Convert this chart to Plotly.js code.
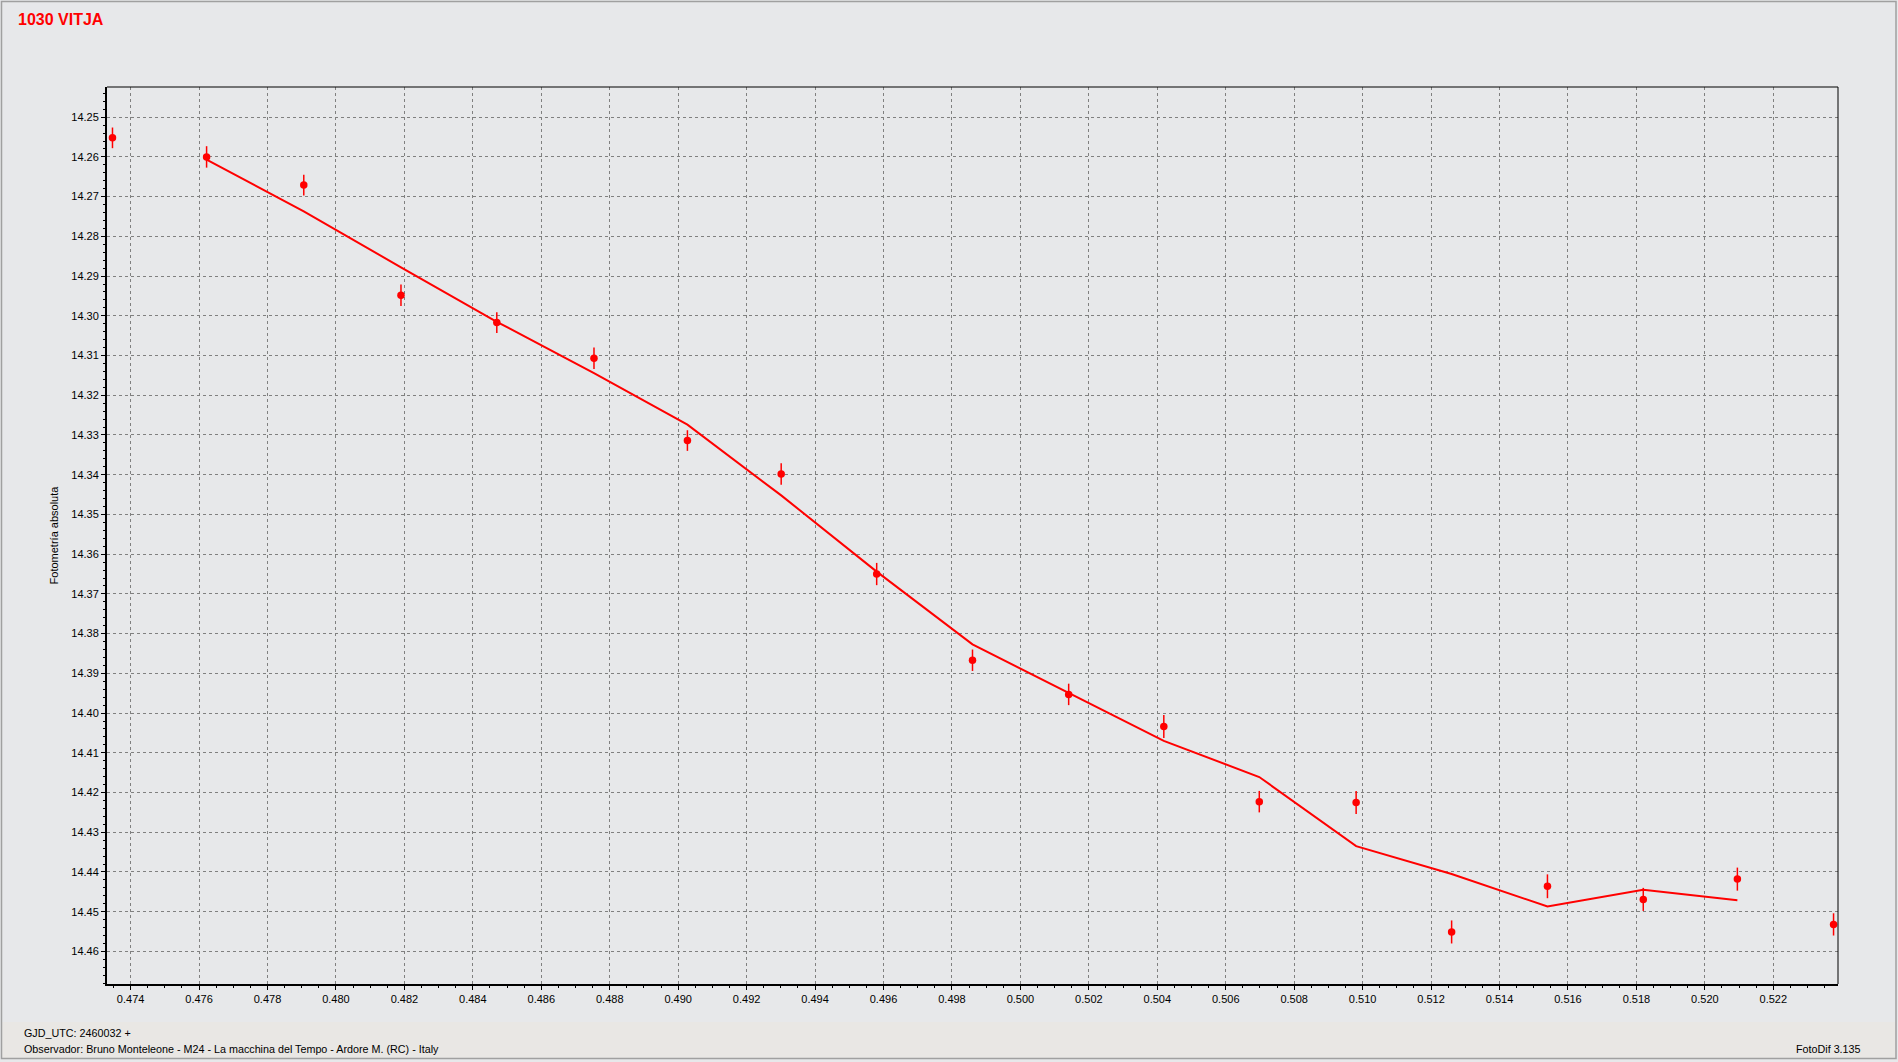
<!DOCTYPE html>
<html>
<head>
<meta charset="utf-8">
<script src="https://cdn.plot.ly/plotly-3.0.1.min.js"></script>
<style>
  html, body { margin: 0; padding: 0; background: #E7E8EA; }
  #chart { width: 1898px; height: 1062px; }
</style>
</head>
<body>
<div id="chart"></div>
<script>
// ---- Data ----
const chartTitle = "1030 VITJA";
const yAxisTitle = "Fotometría absoluta";
const footerDate = "GJD_UTC: 2460032 +";
const footerObserver = "Observador: Bruno Monteleone - M24 - La macchina del Tempo - Ardore M. (RC) - Italy";
const footerSoftware = "FotoDif 3.135";

// observation times (GJD_UTC - 2460032)
const xObs = [0.47347, 0.47622, 0.47906, 0.48190, 0.48470, 0.48754, 0.49027, 0.49301, 0.49580, 0.49860,
              0.50141, 0.50419, 0.50698, 0.50981, 0.51260, 0.51540, 0.51820, 0.52095, 0.52376];
// absolute magnitudes
const magObs = [14.2552, 14.2600, 14.2671, 14.2948, 14.3017, 14.3107, 14.3314, 14.3398, 14.3650, 14.3867,
                14.3953, 14.4034, 14.4223, 14.4225, 14.4551, 14.4436, 14.4469, 14.4418, 14.4532];
// magnitude errors
const magErr = [0.0026, 0.0027, 0.0026, 0.0027, 0.0026, 0.0027, 0.0026, 0.0027, 0.0028, 0.0027,
                0.0027, 0.0029, 0.0027, 0.0029, 0.0029, 0.0030, 0.0029, 0.0029, 0.0028];
// smoothed curve times and values
const xFit = [0.47622, 0.47906, 0.48190, 0.48470, 0.48754, 0.49027, 0.49301, 0.49580, 0.49860,
              0.50141, 0.50419, 0.50698, 0.50981, 0.51260, 0.51540, 0.51820, 0.52095];
const magFit = [14.2607, 14.2737, 14.2878, 14.3015, 14.3144, 14.3274, 14.3452, 14.3644, 14.3827,
                14.3949, 14.4070, 14.4161, 14.4335, 14.4405, 14.4487, 14.4445, 14.4471];

// ---- Layout geometry ----
const W = 1898, H = 1062;
const M = { l: 107, r: 60, t: 87, b: 78 };
const pw = W - M.l - M.r, ph = H - M.t - M.b;
const px = x => (x - M.l) / pw;           // pixel -> paper x
const py = y => (H - M.b - y) / ph;       // pixel -> paper y

const red = "#FF0000";
const font = "Liberation Sans, Arial, sans-serif";

const traces = [
  {
    type: "scatter", mode: "lines",
    x: xFit, y: magFit,
    line: { color: red, width: 2 },
    hoverinfo: "skip", showlegend: false
  },
  {
    type: "scatter", mode: "markers",
    x: xObs, y: magObs,
    marker: { color: red, size: 7.5, symbol: "circle" },
    error_y: { type: "data", array: magErr, visible: true, color: red, thickness: 1.5, width: 0 },
    showlegend: false
  }
];

const gridStyle = { showgrid: true, gridcolor: "#808080", gridwidth: 1, griddash: "3px,3px" };

const layout = {
  width: W, height: H,
  margin: M,
  paper_bgcolor: "#E7E8EA",
  plot_bgcolor: "#E7E8EA",
  showlegend: false,
  font: { family: font, size: 11, color: "#000" },
  title: {
    text: "<b>" + chartTitle + "</b>",
    font: { family: font, size: 16, color: red },
    xref: "container", yref: "container",
    x: 18 / W, xanchor: "left",
    y: 1 - 19.5 / H, yanchor: "middle"
  },
  xaxis: Object.assign({
    range: [0.47331, 0.52389],
    tick0: 0.474, dtick: 0.002, tickformat: ".3f",
    ticks: "outside", ticklen: 4, tickwidth: 1, tickcolor: "#000",
    showline: true, linecolor: "#000", linewidth: 2, mirror: false,
    zeroline: false,
    tickfont: { family: font, size: 11, color: "#000" },
    minor: { dtick: 0.0005, ticks: "outside", ticklen: 2, tickcolor: "#000", showgrid: false },
    fixedrange: true
  }, gridStyle),
  yaxis: Object.assign({
    range: [14.4682, 14.2424],
    tick0: 14.25, dtick: 0.01, tickformat: ".2f",
    ticks: "outside", ticklen: 4, tickwidth: 1, tickcolor: "#000",
    showline: true, linecolor: "#000", linewidth: 2, mirror: false,
    zeroline: false,
    tickfont: { family: font, size: 11, color: "#000" },
    minor: { dtick: 0.002, ticks: "outside", ticklen: 2, tickcolor: "#000", showgrid: false },
    title: { text: yAxisTitle, font: { family: font, size: 11, color: "#000" }, standoff: 10 },
    fixedrange: true
  }, gridStyle),
  shapes: [
    // footer band
    { type: "rect", xref: "paper", yref: "paper", layer: "below",
      x0: px(2), x1: px(1896), y0: py(1058), y1: py(1022),
      fillcolor: "#E9E7E4", line: { width: 0 } },
    // outer frame
    { type: "rect", xref: "paper", yref: "paper", layer: "above",
      x0: px(1.5), x1: px(1896), y0: py(1058.5), y1: py(1.5),
      line: { color: "#A0A0A0", width: 1.5 } },
    // top & right thin borders of plot area
    { type: "line", xref: "paper", yref: "paper", x0: 0, x1: 1, y0: 1, y1: 1,
      line: { color: "#000", width: 1 } },
    { type: "line", xref: "paper", yref: "paper", x0: 1, x1: 1, y0: 0, y1: 1,
      line: { color: "#000", width: 1 } }
  ],
  annotations: [
    { text: footerDate, xref: "paper", yref: "paper", x: px(22), y: py(1033),
      xanchor: "left", yanchor: "middle", showarrow: false,
      font: { family: font, size: 10.75, color: "#000" } },
    { text: footerObserver, xref: "paper", yref: "paper", x: px(22), y: py(1049),
      xanchor: "left", yanchor: "middle", showarrow: false,
      font: { family: font, size: 10.75, color: "#000" } },
    { text: footerSoftware, xref: "paper", yref: "paper", x: px(1863), y: py(1049),
      xanchor: "right", yanchor: "middle", showarrow: false,
      font: { family: font, size: 10.75, color: "#000" } }
  ]
};

Plotly.newPlot("chart", traces, layout, { displayModeBar: false, staticPlot: true });
</script>
</body>
</html>
